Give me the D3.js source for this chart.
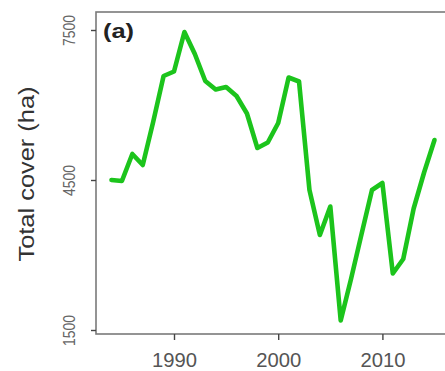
<!DOCTYPE html>
<html>
<head>
<meta charset="utf-8">
<script src="https://cdn.jsdelivr.net/npm/d3@7"></script>
<style>
  html, body { margin: 0; padding: 0; background: #fff; }
  svg { display: block; }
  text { font-family: "Liberation Sans", Arial, Helvetica, sans-serif; }
</style>
</head>
<body>
<svg id="chart" width="445" height="371"></svg>
<script>
// Annual total cover, 1984–2015
const years = [1984, 1985, 1986, 1987, 1988, 1989, 1990, 1991, 1992, 1993, 1994,
  1995, 1996, 1997, 1998, 1999, 2000, 2001, 2002, 2003, 2004, 2005, 2006, 2007,
  2008, 2009, 2010, 2011, 2012, 2013, 2014, 2015];
const cover = [4500, 4480, 5020, 4800, 5660, 6580, 6670, 7460, 7020, 6480, 6310,
  6360, 6180, 5830, 5140, 5250, 5640, 6550, 6470, 4300, 3400, 3970, 1690, 2530,
  3420, 4300, 4440, 2630, 2920, 3930, 4650, 5300];
const xTicks = [1990, 2000, 2010];
const yTicks = [1500, 4500, 7500];
const panelLabel = "(a)";
const yTitle = "Total cover (ha)";

const svg = d3.select("#chart");
const boxColor = "#7a7a7a";

const x = d3.scaleLinear().domain([1990, 2010]).range([174, 382.4]);
const y = d3.scaleLinear().domain([1500, 7500]).range([330, 30]);

const box = { left: 96, top: 12, right: 452, bottom: 334 };

// Plot frame (right side runs past the edge)
svg.append("rect")
  .attr("x", box.left).attr("y", box.top)
  .attr("width", box.right - box.left).attr("height", box.bottom - box.top)
  .attr("fill", "none").attr("stroke", boxColor).attr("stroke-width", 1.6);

// Bottom axis
const xAxis = svg.append("g")
  .attr("transform", `translate(0,${box.bottom})`)
  .call(d3.axisBottom(x).tickValues(xTicks).tickFormat(d3.format("d")).tickSize(6).tickPadding(6));
xAxis.select(".domain").remove();
xAxis.selectAll("line").attr("stroke", "#444").attr("stroke-width", 1.4);
xAxis.selectAll("text")
  .attr("fill", "#555").attr("font-size", 20).attr("dy", null)
  .attr("y", 33)
  .attr("textLength", 45).attr("lengthAdjust", "spacingAndGlyphs");

// Left axis
const yAxis = svg.append("g")
  .attr("transform", `translate(${box.left},0)`)
  .call(d3.axisLeft(y).tickValues(yTicks).tickFormat(d3.format("d")).tickSize(5));
yAxis.select(".domain").remove();
yAxis.selectAll("line").attr("stroke", "#444").attr("stroke-width", 1.4);
yAxis.selectAll("text")
  .attr("fill", "#666").attr("font-size", 16)
  .attr("x", null).attr("dy", null)
  .attr("text-anchor", "middle")
  .attr("transform", "translate(-21,0) rotate(-90)")
  .attr("textLength", 31).attr("lengthAdjust", "spacingAndGlyphs");

// Axis title
svg.append("text")
  .attr("transform", "translate(33.5,174) rotate(-90)")
  .attr("text-anchor", "middle")
  .attr("fill", "#333").attr("font-size", 22)
  .attr("textLength", 175).attr("lengthAdjust", "spacingAndGlyphs")
  .text(yTitle);

// Panel label
svg.append("text")
  .attr("x", 103).attr("y", 38)
  .attr("fill", "#222").attr("font-size", 21).attr("font-weight", "bold")
  .attr("textLength", 31).attr("lengthAdjust", "spacingAndGlyphs")
  .text(panelLabel);

// Cover series
const line = d3.line()
  .x((d, i) => x(years[i]))
  .y(d => y(d));

svg.append("path")
  .datum(cover)
  .attr("d", line)
  .attr("fill", "none")
  .attr("stroke", "#1cc41c")
  .attr("stroke-width", 4.6)
  .attr("stroke-linejoin", "round")
  .attr("stroke-linecap", "round");
</script>
</body>
</html>
